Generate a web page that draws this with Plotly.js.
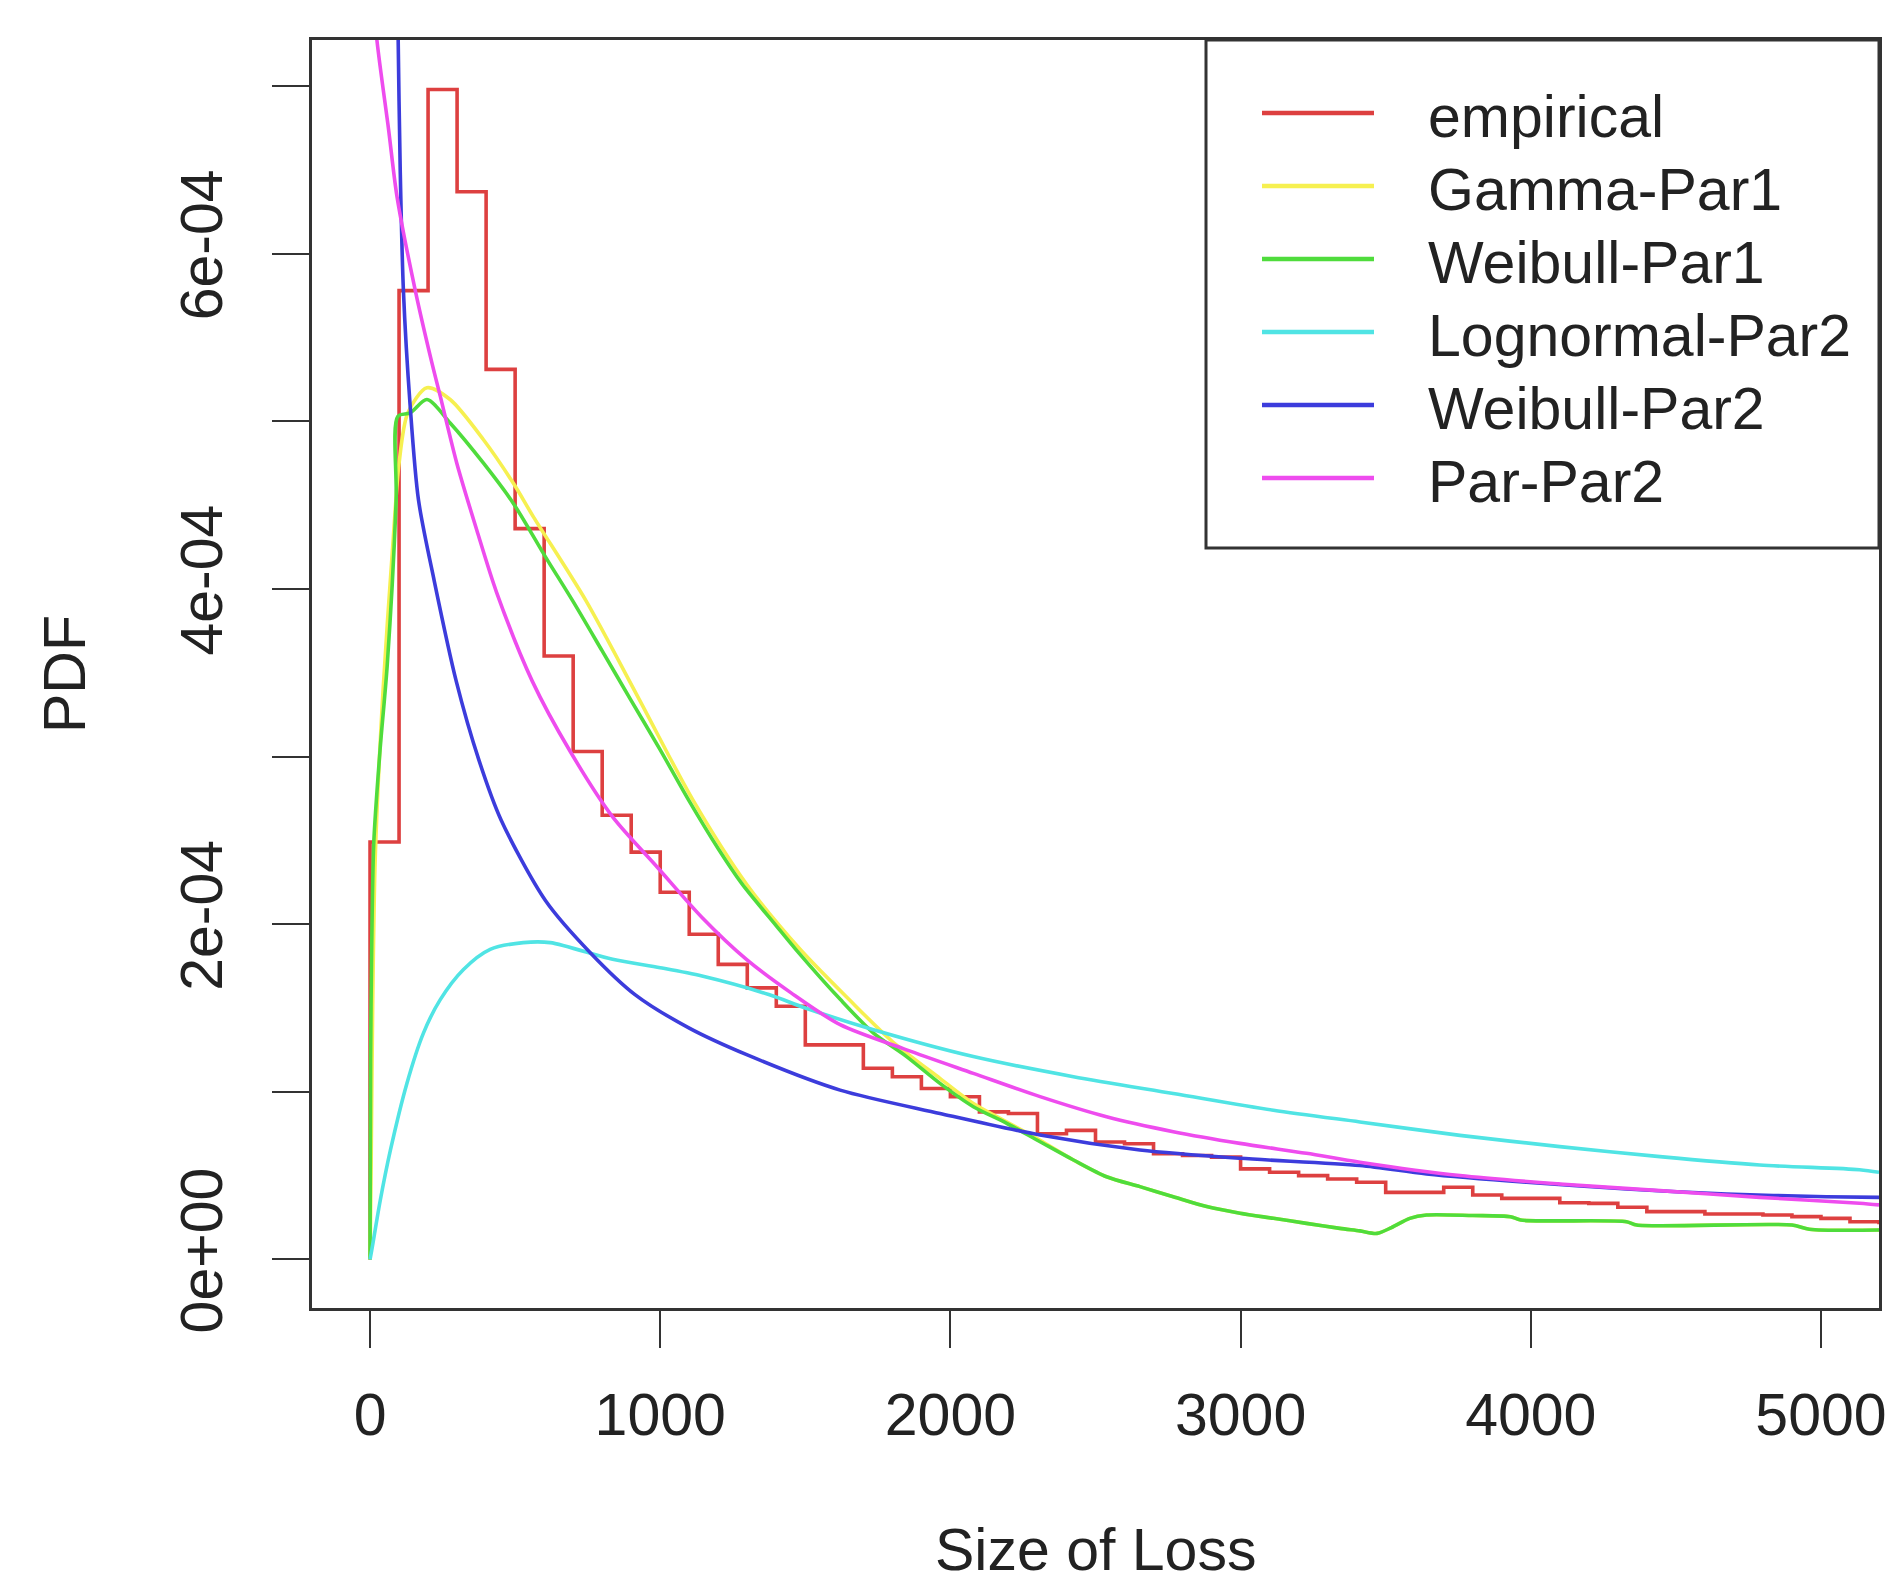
<!DOCTYPE html>
<html>
<head>
<meta charset="utf-8">
<script src="https://cdn.plot.ly/plotly-3.0.1.min.js"></script>
<style>
  html, body { margin: 0; padding: 0; background: #ffffff; }
  #chart { width: 1895px; height: 1590px; }
</style>
</head>
<body>
<div id="chart"></div>
<script>
// ---------------- DATA (density values in units of 1e-4) ----------------
const UNIT = 1e-4;

// empirical histogram-style density: bin start (Size of Loss) and density
const empBinStart = [0, 100, 200, 300, 400, 500, 600, 700, 800, 900,
  1000, 1100, 1200, 1300, 1400, 1500, 1600, 1700, 1800, 1900,
  2000, 2100, 2200, 2300, 2400, 2500, 2600, 2700, 2800, 2900,
  3000, 3100, 3200, 3300, 3400, 3500, 3600, 3700, 3800, 3900,
  4000, 4100, 4200, 4300, 4400, 4500, 4600, 4700, 4800, 4900,
  5000, 5100, 5200];
const empEnd = 5300;
const empDensity = [2.49, 5.78, 6.98, 6.37, 5.31, 4.36, 3.60, 3.03, 2.65, 2.43,
  2.19, 1.94, 1.76, 1.62, 1.51, 1.28, 1.28, 1.14, 1.09, 1.02,
  0.97, 0.88, 0.87, 0.75, 0.77, 0.70, 0.69, 0.63, 0.62, 0.61,
  0.54, 0.52, 0.50, 0.48, 0.46, 0.40, 0.40, 0.43, 0.384, 0.364,
  0.364, 0.338, 0.334, 0.311, 0.285, 0.285, 0.271, 0.271, 0.265, 0.255,
  0.245, 0.225, 0.22];

// Gamma-Par1
const gammaX = [0, 4, 9, 18, 45, 80, 100, 130, 196, 276,
  391, 494, 563, 744, 928, 1113, 1297, 1482, 1651, 1800,
  1964, 2079, 2194, 2309, 2424, 2538, 2653, 2768, 2883, 2998,
  3113, 3227, 3342, 3411, 3470, 3520, 3583, 3641, 3800, 3930,
  3965, 4330, 4365, 4900, 4960, 5200];
const gammaY = [0, 0.6, 1.5, 2.4, 3.4, 4.3, 4.75, 5.05, 5.2, 5.13,
  4.89, 4.63, 4.43, 3.93, 3.34, 2.74, 2.24, 1.85, 1.55, 1.30,
  1.08, 0.93, 0.82, 0.71, 0.593, 0.493, 0.434, 0.374, 0.315, 0.275,
  0.245, 0.215, 0.185, 0.17, 0.155, 0.19, 0.245, 0.265, 0.262, 0.255,
  0.235, 0.225, 0.205, 0.205, 0.18, 0.175];

// Weibull-Par1
const weib1X = [0, 2, 6, 13, 35, 59, 90, 96, 138, 196,
  276, 391, 494, 605, 698, 800, 898, 1000, 1098, 1200,
  1282, 1400, 1467, 1621, 1735, 1849, 1964, 2079, 2194, 2309,
  2424, 2538, 2653, 2768, 2883, 2998, 3113, 3227, 3342, 3411,
  3470, 3520, 3583, 3641, 3800, 3930, 3965, 4330, 4365, 4900,
  4960, 5200];
const weib1Y = [0, 1.2, 1.9, 2.49, 3.05, 3.54, 4.53, 5.03, 5.05, 5.13,
  4.99, 4.75, 4.51, 4.19, 3.93, 3.63, 3.34, 3.04, 2.74, 2.45,
  2.24, 1.99, 1.85, 1.55, 1.35, 1.21, 1.05, 0.911, 0.812, 0.702,
  0.593, 0.493, 0.434, 0.374, 0.315, 0.275, 0.245, 0.215, 0.185, 0.17,
  0.155, 0.19, 0.245, 0.265, 0.262, 0.255, 0.235, 0.225, 0.205, 0.205,
  0.18, 0.175];

// Lognormal-Par2
const lnormX = [0, 6, 35, 70, 127, 184, 242, 322, 414, 528,
  621, 836, 1000, 1144, 1374, 1500, 1735, 2079, 2424, 2768,
  3113, 3411, 3756, 4100, 4445, 4789, 5133, 5200];
const lnormY = [0, 0.056, 0.35, 0.65, 1.05, 1.35, 1.55, 1.73, 1.85, 1.89,
  1.89, 1.79, 1.74, 1.69, 1.58, 1.50, 1.37, 1.21, 1.09, 0.99,
  0.89, 0.82, 0.74, 0.673, 0.613, 0.563, 0.535, 0.52];

// Weibull-Par2
const weib2X = [2, 20, 50, 80, 90, 97, 104, 115, 138, 167,
  221, 297, 375, 452, 605, 759, 913, 1100, 1300, 1620,
  1964, 2309, 2653, 2998, 3411, 3641, 3985, 4330, 4674, 5019,
  5200];
const weib2Y = [80, 30, 15, 9.5, 8.3, 7.27, 6.5, 5.78, 5.1, 4.53,
  4.05, 3.45, 2.98, 2.62, 2.14, 1.83, 1.58, 1.38, 1.22, 1.01,
  0.871, 0.742, 0.653, 0.603, 0.56, 0.51, 0.46, 0.42, 0.39, 0.374,
  0.37];

// Par-Par2
const parX = [0, 24, 64, 93, 156, 213, 242, 299, 368, 436,
  559, 690, 836, 990, 1144, 1297, 1451, 1620, 1849, 2079,
  2309, 2538, 2768, 2998, 3227, 3411, 3756, 4100, 4445, 4789,
  5133, 5200];
const parY = [7.75, 7.27, 6.74, 6.34, 5.78, 5.35, 5.15, 4.75, 4.35, 3.98,
  3.45, 3.03, 2.64, 2.34, 2.04, 1.79, 1.59, 1.40, 1.25, 1.11,
  0.971, 0.851, 0.762, 0.692, 0.633, 0.58, 0.50, 0.45, 0.41, 0.37,
  0.335, 0.325];

const seriesNames = ['empirical', 'Gamma-Par1', 'Weibull-Par1', 'Lognormal-Par2', 'Weibull-Par2', 'Par-Par2'];
const seriesColors = ['#dd4040', '#f6f050', '#4fdc3c', '#50e4e4', '#3c3cdc', '#ee4cee'];

const xTickVals = [0, 1000, 2000, 3000, 4000, 5000];
const xTickText = ['0', '1000', '2000', '3000', '4000', '5000'];
const yTickVals = [0, 1e-4, 2e-4, 3e-4, 4e-4, 5e-4, 6e-4, 7e-4];
const yTickText = ['0e+00', '', '2e-04', '', '4e-04', '', '6e-04', ''];

const xTitle = 'Size of Loss';
const yTitle = 'PDF';

// ---------------- BUILD ----------------
const sc = a => a.map(v => v * UNIT);
const LW = 3.6;

const empX = [0].concat(empBinStart, [empEnd]);
const empY = [0].concat(empDensity, [empDensity[empDensity.length - 1]]);

const curves = [
  {x: empX, y: sc(empY), shape: 'hv'},
  {x: gammaX, y: sc(gammaY), shape: 'spline'},
  {x: weib1X, y: sc(weib1Y), shape: 'spline'},
  {x: lnormX, y: sc(lnormY), shape: 'spline'},
  {x: weib2X, y: sc(weib2Y), shape: 'spline'},
  {x: parX, y: sc(parY), shape: 'spline'}
];

const traces = curves.map((c, i) => ({
  type: 'scatter', mode: 'lines', name: seriesNames[i],
  x: c.x, y: c.y,
  line: {color: seriesColors[i], width: LW, shape: c.shape, smoothing: 0.8, simplify: false},
  hoverinfo: 'x+y+name'
}));

// plot-area geometry (px) for the hand-drawn R-style legend
const W = 1895, H = 1590;
const M = {l: 312, r: 16, t: 40, b: 282};
const PW = W - M.l - M.r, PH = H - M.t - M.b;
const px = x => (x - M.l) / PW;
const py = y => (M.t + PH - y) / PH;

const legBox = {x0: 1206, x1: 1879, y0: 40, y1: 548};
const legLineX = [1262, 1374];
const legTextX = 1426;
const legRowY = [113, 186, 259, 332, 405, 478];

const FONT = 'Liberation Sans, Arial, Helvetica, sans-serif';
const TXT = '#222222';
const AX = '#333333';

const shapes = [{
  type: 'rect', xref: 'paper', yref: 'paper',
  x0: px(legBox.x0), x1: px(legBox.x1), y0: py(legBox.y1), y1: py(legBox.y0),
  line: {color: AX, width: 3}, fillcolor: '#ffffff', layer: 'above'
}];
const annotations = [];
seriesNames.forEach((n, i) => {
  shapes.push({
    type: 'line', xref: 'paper', yref: 'paper',
    x0: px(legLineX[0]), x1: px(legLineX[1]), y0: py(legRowY[i]), y1: py(legRowY[i]),
    line: {color: seriesColors[i], width: 4.5}, layer: 'above'
  });
  annotations.push({
    xref: 'paper', yref: 'paper', x: px(legTextX), y: py(legRowY[i] + 4),
    xanchor: 'left', yanchor: 'middle', text: n, showarrow: false,
    font: {family: FONT, size: 59, color: TXT}
  });
});

annotations.push({
  xref: 'paper', yref: 'paper', x: 0.5, y: 0, yshift: -277,
  xanchor: 'center', yanchor: 'bottom', text: xTitle, showarrow: false,
  font: {family: FONT, size: 59, color: TXT}
});
annotations.push({
  xref: 'paper', yref: 'paper', x: 0, y: 0.5, xshift: -247,
  xanchor: 'center', yanchor: 'middle', text: yTitle, showarrow: false, textangle: -90,
  font: {family: FONT, size: 59, color: TXT}
});

const layout = {
  width: W, height: H,
  margin: M,
  paper_bgcolor: '#ffffff', plot_bgcolor: '#ffffff',
  showlegend: false,
  font: {family: FONT, size: 59, color: TXT},
  xaxis: {
    range: [-200, 5200], tickmode: 'array', tickvals: xTickVals, ticktext: xTickText,
    ticks: 'outside', ticklen: 37, tickwidth: 2, tickcolor: AX,
    showline: true, mirror: true, linecolor: AX, linewidth: 3,
    showgrid: false, zeroline: false, ticklabelstandoff: 16,
    tickfont: {family: FONT, size: 59, color: TXT}
  },
  yaxis: {
    range: [-0.29e-4, 7.275e-4], tickmode: 'array', tickvals: yTickVals, ticktext: yTickText,
    tickangle: -90,
    ticks: 'outside', ticklen: 37, tickwidth: 2, tickcolor: AX,
    showline: true, mirror: true, linecolor: AX, linewidth: 3,
    showgrid: false, zeroline: false, ticklabelstandoff: 26,
    tickfont: {family: FONT, size: 59, color: TXT}
  },
  shapes: shapes,
  annotations: annotations
};

Plotly.newPlot('chart', traces, layout, {displayModeBar: false, staticPlot: true});
</script>
</body>
</html>
